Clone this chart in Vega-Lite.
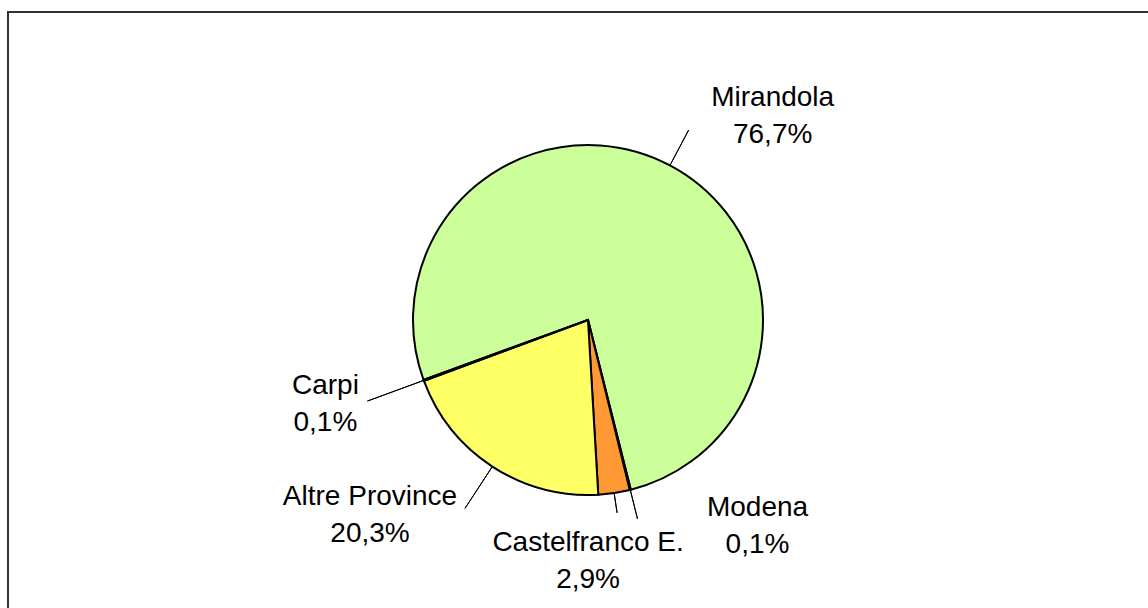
{
  "$schema": "https://vega.github.io/schema/vega-lite/v6.json",
  "width": 1160,
  "height": 616,
  "autosize": {"type": "none"},
  "padding": {"left": 8, "top": 12, "right": 0, "bottom": 0},
  "background": "white",
  "config": {"view": {"stroke": null}},
  "data": {
    "values": [
      {"cat": "Mirandola", "pct": 76.7, "ord": 1, "label": "Mirandola\n76,7%"},
      {"cat": "Modena", "pct": 0.1, "ord": 2, "label": "Modena\n0,1%"},
      {"cat": "Castelfranco E.", "pct": 2.9, "ord": 3, "label": "Castelfranco E.\n2,9%"},
      {"cat": "Altre Province", "pct": 20.3, "ord": 4, "label": "Altre Province\n20,3%"},
      {"cat": "Carpi", "pct": 0.1, "ord": 5, "label": "Carpi\n0,1%"}
    ]
  },
  "layer": [
    {
      "data": {"values": [{"frame": 1}]},
      "mark": {"type": "rect", "fill": null, "stroke": "#333333", "strokeWidth": 2},
      "encoding": {}
    },
    {
      "transform": [
        {"stack": "pct", "groupby": [], "sort": [{"field": "ord", "order": "ascending"}], "as": ["s0", "s1"]}
      ],
      "layer": [
        {
          "mark": {"type": "arc", "radius": 175, "stroke": "#000000", "strokeWidth": 2},
          "encoding": {
            "theta": {"field": "s0", "type": "quantitative", "stack": null, "scale": {"domain": [0, 100.1], "range": [4.3633, 10.6465]}},
            "theta2": {"field": "s1"},
            "color": {
              "field": "cat", "type": "nominal", "legend": null,
              "scale": {
                "domain": ["Mirandola", "Modena", "Castelfranco E.", "Altre Province", "Carpi"],
                "range": ["#CCFF99", "#990040", "#FF9933", "#FFFF66", "#339966"]
              }
            }
          }
        },
        {
          "transform": [
            {"fold": ["s0", "s1"], "as": ["k", "v"]},
            {"aggregate": [{"op": "mean", "field": "v", "as": "mid"}], "groupby": ["cat", "label"]}
          ],
          "layer": [
            {
              "transform": [{"filter": "datum.cat === 'Mirandola'"}],
              "layer": [
                {
                  "mark": {"type": "arc", "radius": 215, "radius2": 175, "fill": null, "stroke": "#000000", "strokeWidth": 1},
                  "encoding": {
                    "theta": {"field": "mid", "type": "quantitative", "stack": null, "scale": {"domain": [0, 100.1], "range": [4.3633, 10.6465]}},
                    "theta2": {"field": "mid"}
                  }
                },
                {
                  "mark": {"type": "text", "radius": 215, "dx": 84, "dy": -32, "align": "center", "baseline": "middle", "lineBreak": "\n", "lineHeight": 37, "fontSize": 28, "font": "Liberation Sans", "color": "#000000"},
                  "encoding": {
                    "theta": {"field": "mid", "type": "quantitative", "stack": null, "scale": {"domain": [0, 100.1], "range": [4.3633, 10.6465]}},
                    "text": {"field": "label"}
                  }
                }
              ]
            },
            {
              "transform": [{"filter": "datum.cat === 'Modena'"}],
              "layer": [
                {
                  "mark": {"type": "arc", "radius": 205, "radius2": 175, "fill": null, "stroke": "#000000", "strokeWidth": 1},
                  "encoding": {
                    "theta": {"field": "mid", "type": "quantitative", "stack": null, "scale": {"domain": [0, 100.1], "range": [4.3633, 10.6465]}},
                    "theta2": {"field": "mid"}
                  }
                },
                {
                  "mark": {"type": "text", "radius": 205, "dx": 120, "dy": -11, "align": "center", "baseline": "middle", "lineBreak": "\n", "lineHeight": 37, "fontSize": 28, "font": "Liberation Sans", "color": "#000000"},
                  "encoding": {
                    "theta": {"field": "mid", "type": "quantitative", "stack": null, "scale": {"domain": [0, 100.1], "range": [4.3633, 10.6465]}},
                    "text": {"field": "label"}
                  }
                }
              ]
            },
            {
              "transform": [{"filter": "datum.cat === 'Castelfranco E.'"}],
              "layer": [
                {
                  "mark": {"type": "arc", "radius": 195, "radius2": 175, "fill": null, "stroke": "#000000", "strokeWidth": 1},
                  "encoding": {
                    "theta": {"field": "mid", "type": "quantitative", "stack": null, "scale": {"domain": [0, 100.1], "range": [4.3633, 10.6465]}},
                    "theta2": {"field": "mid"}
                  }
                },
                {
                  "mark": {"type": "text", "radius": 195, "dx": -29, "dy": 30, "align": "center", "baseline": "middle", "lineBreak": "\n", "lineHeight": 37, "fontSize": 28, "font": "Liberation Sans", "color": "#000000"},
                  "encoding": {
                    "theta": {"field": "mid", "type": "quantitative", "stack": null, "scale": {"domain": [0, 100.1], "range": [4.3633, 10.6465]}},
                    "text": {"field": "label"}
                  }
                }
              ]
            },
            {
              "transform": [{"filter": "datum.cat === 'Altre Province'"}],
              "layer": [
                {
                  "mark": {"type": "arc", "radius": 225, "radius2": 175, "fill": null, "stroke": "#000000", "strokeWidth": 1},
                  "encoding": {
                    "theta": {"field": "mid", "type": "quantitative", "stack": null, "scale": {"domain": [0, 100.1], "range": [4.3633, 10.6465]}},
                    "theta2": {"field": "mid"}
                  }
                },
                {
                  "mark": {"type": "text", "radius": 225, "dx": -95, "dy": -11, "align": "center", "baseline": "middle", "lineBreak": "\n", "lineHeight": 37, "fontSize": 28, "font": "Liberation Sans", "color": "#000000"},
                  "encoding": {
                    "theta": {"field": "mid", "type": "quantitative", "stack": null, "scale": {"domain": [0, 100.1], "range": [4.3633, 10.6465]}},
                    "text": {"field": "label"}
                  }
                }
              ]
            },
            {
              "transform": [{"filter": "datum.cat === 'Carpi'"}],
              "layer": [
                {
                  "mark": {"type": "arc", "radius": 235, "radius2": 175, "fill": null, "stroke": "#000000", "strokeWidth": 1},
                  "encoding": {
                    "theta": {"field": "mid", "type": "quantitative", "stack": null, "scale": {"domain": [0, 100.1], "range": [4.3633, 10.6465]}},
                    "theta2": {"field": "mid"}
                  }
                },
                {
                  "mark": {"type": "text", "radius": 235, "dx": -42, "dy": -15, "align": "center", "baseline": "middle", "lineBreak": "\n", "lineHeight": 37, "fontSize": 28, "font": "Liberation Sans", "color": "#000000"},
                  "encoding": {
                    "theta": {"field": "mid", "type": "quantitative", "stack": null, "scale": {"domain": [0, 100.1], "range": [4.3633, 10.6465]}},
                    "text": {"field": "label"}
                  }
                }
              ]
            }
          ]
        }
      ]
    }
  ]
}
